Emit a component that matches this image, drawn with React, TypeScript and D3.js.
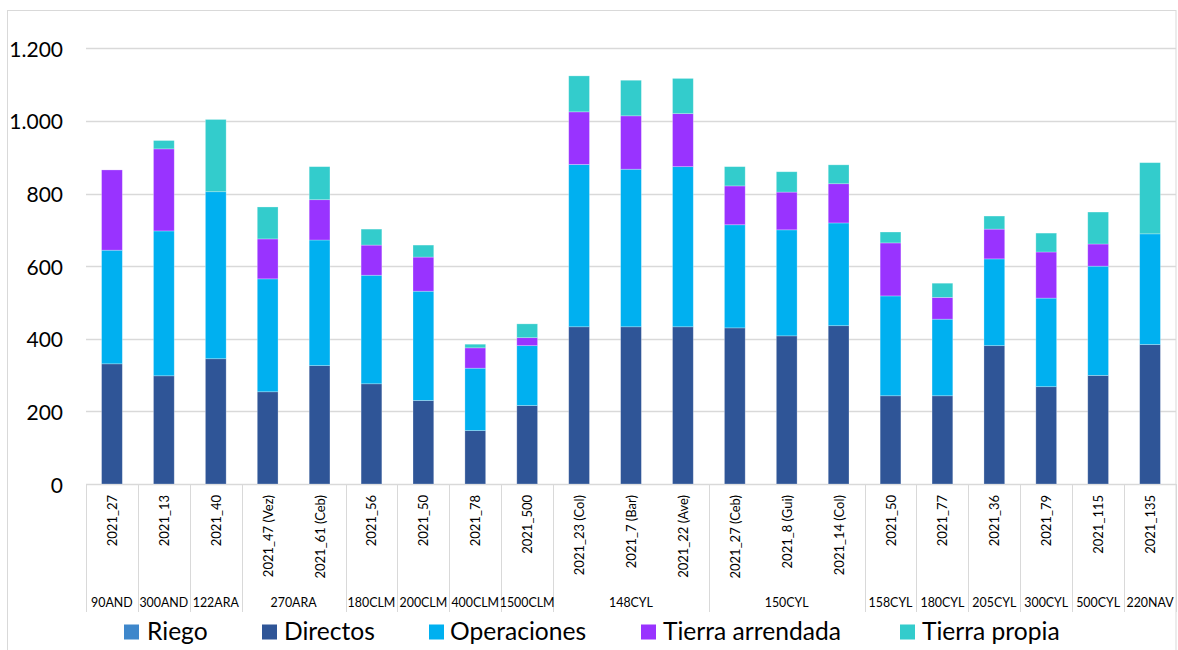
import React from "react";
import * as d3 from "d3";

const categories = [
  "2021_27", "2021_13", "2021_40", "2021_47 (Vez)", "2021_61 (Ceb)", "2021_56", "2021_50",
  "2021_78", "2021_500", "2021_23 (Col)", "2021_7 (Bar)", "2021_22 (Ave)", "2021_27 (Ceb)",
  "2021_8 (Gui)", "2021_14 (Col)", "2021_50", "2021_77", "2021_36", "2021_79", "2021_115", "2021_135",
];
const groups = [
  { name: "90AND", count: 1 },
  { name: "300AND", count: 1 },
  { name: "122ARA", count: 1 },
  { name: "270ARA", count: 2 },
  { name: "180CLM", count: 1 },
  { name: "200CLM", count: 1 },
  { name: "400CLM", count: 1 },
  { name: "1500CLM", count: 1 },
  { name: "148CYL", count: 3 },
  { name: "150CYL", count: 3 },
  { name: "158CYL", count: 1 },
  { name: "180CYL", count: 1 },
  { name: "205CYL", count: 1 },
  { name: "300CYL", count: 1 },
  { name: "500CYL", count: 1 },
  { name: "220NAV", count: 1 },
];

const riego = [0, 0, 0, 0, 0, 0, 0, 0, 0, 0, 0, 0, 0, 0, 0, 0, 0, 0, 0, 0, 0];
const directos = [331, 298, 345, 254, 326, 276, 230, 147, 216, 433, 433, 433, 430, 408, 436, 243, 243, 381, 268, 299, 384];
const operaciones = [313, 399, 460, 311, 346, 299, 301, 172, 165, 447, 434, 441, 284, 292, 283, 275, 211, 239, 244, 301, 305];
const tierraArrendada = [221, 226, 0, 110, 111, 83, 94, 56, 22, 145, 147, 146, 107, 104, 108, 146, 60, 82, 127, 61, 0];
const tierraPropia = [0, 23, 199, 88, 91, 44, 33, 10, 38, 99, 98, 97, 53, 56, 52, 30, 39, 36, 52, 88, 196];

const seriesNames = ["Riego", "Directos", "Operaciones", "Tierra arrendada", "Tierra propia"];
const seriesColors = ["#3E87CB", "#2F5597", "#00B0F0", "#9933FF", "#33CCCC"];
const yTicks = [0, 200, 400, 600, 800, 1000, 1200];

const W = 1178;
const H = 650;
const FONT = "Lato, 'Open Sans', sans-serif";

export default function App() {
  const left = 86;
  const right = 1176;
  const y0 = 484;
  const yTop = 48.3;

  const x = d3
    .scaleBand<number>()
    .domain(categories.map((_, i) => i))
    .range([left, right])
    .paddingInner(0.6)
    .paddingOuter(0.3);
  const step = x.step();
  const y = d3.scaleLinear().domain([0, 1200]).range([y0, yTop]);

  const table = categories.map((c, i) => ({
    i,
    Riego: riego[i],
    Directos: directos[i],
    Operaciones: operaciones[i],
    "Tierra arrendada": tierraArrendada[i],
    "Tierra propia": tierraPropia[i],
  }));
  const stacked = d3.stack<any>().keys(seriesNames)(table);

  const fmt = d3
    .formatLocale({ decimal: ",", thousands: ".", grouping: [3], currency: ["", ""] })
    .format(",");

  let acc = 0;
  const groupSpans = groups.map((g) => {
    const start = acc;
    acc += g.count;
    return { ...g, start, end: acc };
  });
  const bx = (k: number) => left + k * step;

  const legendItems = [
    { sx: 124, tx: 147 },
    { sx: 262, tx: 284 },
    { sx: 429, tx: 450 },
    { sx: 641, tx: 663 },
    { sx: 900, tx: 922 },
  ];

  return (
    <svg
      width={W}
      height={H}
      style={{ position: "absolute", left: 0, top: 0, background: "#fff" }}
      fontFamily={FONT}
    >
      <rect x={0} y={0} width={W} height={H} fill="#fff" />
      <rect x={7.5} y={10.5} width={1168.5} height={660} fill="none" stroke="#d9d9d9" strokeWidth={1} />

      {yTicks.map((t) => (
        <line
          key={"g" + t}
          x1={left}
          x2={right}
          y1={Math.round(y(t)) + 0.5}
          y2={Math.round(y(t)) + 0.5}
          stroke="#d9d9d9"
          strokeWidth={1.3}
        />
      ))}
      {yTicks.map((t) => (
        <text
          key={"t" + t}
          x={63}
          y={y(t)}
          textAnchor="end"
          dominantBaseline="central"
          fontSize={21}
          fill="#000"
        >
          {fmt(t)}
        </text>
      ))}

      {stacked.map((s, si) => (
        <g key={s.key} fill={seriesColors[si]}>
          {s.map((d, i) =>
            d[1] - d[0] > 0 ? (
              <rect
                key={i}
                x={x(i)}
                y={y(d[1])}
                width={x.bandwidth()}
                height={y(d[0]) - y(d[1])}
                stroke="#ffffff"
                strokeOpacity={0.35}
                strokeWidth={0.75}
              />
            ) : null
          )}
        </g>
      ))}

      {[0, ...groupSpans.map((g) => g.end)].map((k) => (
        <line
          key={"s" + k}
          x1={Math.round(bx(k)) + 0.5}
          x2={Math.round(bx(k)) + 0.5}
          y1={y0}
          y2={612}
          stroke="#d9d9d9"
          strokeWidth={1}
        />
      ))}

      {categories.map((c, i) => {
        const cx = (x(i) as number) + x.bandwidth() / 2;
        return (
          <text
            key={"c" + i}
            transform={`translate(${cx},495) rotate(-90)`}
            textAnchor="end"
            dominantBaseline="central"
            fontSize={13}
            fill="#000"
          >
            {c}
          </text>
        );
      })}

      {groupSpans.map((g) => (
        <text
          key={"gl" + g.name}
          x={(bx(g.start) + bx(g.end)) / 2}
          y={607}
          textAnchor="middle"
          fontSize={12.4}
          fill="#000"
        >
          {g.name}
        </text>
      ))}

      {seriesNames.map((n, i) => (
        <g key={"l" + n}>
          <rect x={legendItems[i].sx} y={624.5} width={15} height={15} fill={seriesColors[i]} />
          <text x={legendItems[i].tx} y={640} fontSize={24.6} fill="#000">
            {n}
          </text>
        </g>
      ))}
    </svg>
  );
}
